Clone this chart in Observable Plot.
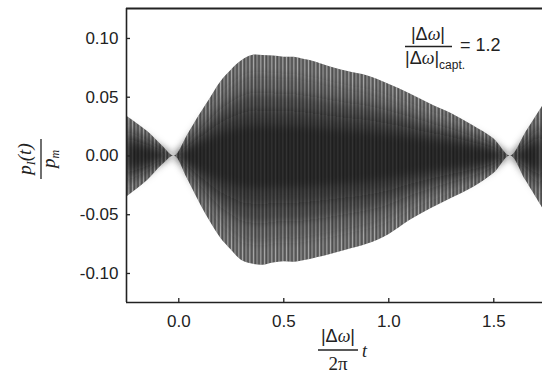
<!DOCTYPE html>
<html>
<head>
<meta charset="utf-8">
<script src="https://cdn.jsdelivr.net/npm/d3@7"></script>
<script src="https://cdn.jsdelivr.net/npm/@observablehq/plot@0.6"></script>
<style>
  html, body { margin: 0; padding: 0; background: #fff; }
  #chart svg { display: block; }
</style>
</head>
<body>
<div id="chart"></div>
<script>
// Envelope of the rapidly oscillating signal
const tValues = [-0.249, -0.15, -0.08, -0.02, 0.04, 0.1, 0.15, 0.2, 0.25, 0.3, 0.35, 0.4, 0.45, 0.5, 0.55, 0.6, 0.65, 0.7, 0.8, 0.9, 1.0, 1.1, 1.2, 1.3, 1.4, 1.5, 1.58, 1.65, 1.732];
const upperEnvelope = [0.034, 0.021, 0.009, 0.0, 0.017, 0.035, 0.049, 0.063, 0.073, 0.081, 0.0855, 0.0855, 0.085, 0.084, 0.084, 0.082, 0.080, 0.077, 0.072, 0.068, 0.061, 0.053, 0.044, 0.036, 0.026, 0.0146, 0.0, 0.019, 0.042];
const lowerEnvelope = [-0.035, -0.021, -0.008, 0.0, -0.019, -0.040, -0.056, -0.070, -0.080, -0.089, -0.092, -0.093, -0.091, -0.090, -0.0905, -0.089, -0.087, -0.085, -0.080, -0.075, -0.067, -0.055, -0.045, -0.036, -0.027, -0.015, 0.0, -0.020, -0.044];
const xTicks = [0.0, 0.5, 1.0, 1.5];
const yTicks = [-0.10, -0.05, 0.00, 0.05, 0.10];
const xDomain = [-0.249, 1.732];
const yDomain = [-0.1247, 0.1255];
const annotationValue = "1.2";

const rows = tValues.map((t, i) => ({t, hi: upperEnvelope[i], lo: lowerEnvelope[i]}));

const W = 542, H = 374;
const mL = 126, mR = 0, mT = 8, mB = 72;
const plotW = W - mL - mR, plotH = H - mT - mB;

// darker core shading layers (fraction of the envelope, colour, opacity) - style only
const coreLayers = [
  {k: 0.8, fill: "#333333", op: 0.25},
  {k: 0.62, fill: "#222222", op: 0.35},
  {k: 0.45, fill: "#111111", op: 0.35},
  {k: 0.3, fill: "#0c0c0c", op: 0.3}
];
const coreFills = coreLayers.map(c => c.fill);
const coreMarks = coreLayers.map(c => {
  const scaled = rows.map(r => ({t: r.t, hi: r.hi * c.k, lo: r.lo * c.k}));
  return Plot.areaY(scaled, {x: "t", y1: "lo", y2: "hi", fill: c.fill, fillOpacity: c.op, curve: "catmull-rom"});
});

const svg = Plot.plot({
  width: W,
  height: H,
  marginLeft: mL,
  marginRight: mR,
  marginTop: mT,
  marginBottom: mB,
  style: {fontFamily: "'Liberation Sans', Arial, Helvetica, sans-serif", fontSize: "16px", color: "#222", background: "#fff"},
  x: {domain: xDomain},
  y: {domain: yDomain},
  marks: [
    // signal envelope
    Plot.areaY(rows, {x: "t", y1: "lo", y2: "hi", fill: "#666666", curve: "catmull-rom"}),
    Plot.areaY(rows, {x: "t", y1: "lo", y2: "hi", fill: "url(#stripes)", curve: "catmull-rom"}),
    ...coreMarks,
    Plot.areaY(rows, {x: "t", y1: "lo", y2: "hi", fill: "url(#stripesDark)", curve: "catmull-rom"}),
    // spines
    Plot.ruleX([xDomain[0]], {stroke: "#222", strokeWidth: 1.6}),
    Plot.ruleY([yDomain[0]], {stroke: "#222", strokeWidth: 1.6}),
    Plot.ruleY([yDomain[1]], {stroke: "#222", strokeWidth: 1.8}),
    // inward ticks
    Plot.tickX(xTicks, {x: d => d, stroke: "#222", strokeWidth: 1.3, insetTop: plotH - 4}),
    Plot.tickY(yTicks, {y: d => d, stroke: "#222", strokeWidth: 1.3, insetRight: plotW - 4}),
    // tick labels
    Plot.axisX(xTicks, {tickSize: 0, tickPadding: 12, tickFormat: d => d.toFixed(1), label: null, fontSize: 17, letterSpacing: 1.5}),
    Plot.axisY(yTicks, {tickSize: 0, tickPadding: 8, tickFormat: d => d.toFixed(2), label: null, fontSize: 17, letterSpacing: 1.5})
  ]
});

const s = d3.select(svg);
const defs = s.insert("defs", ":first-child");
defs.html(`
  <pattern id="stripes" patternUnits="userSpaceOnUse" width="11" height="20">
    <rect x="0" y="0" width="1.1" height="20" fill="#d8d8d8" fill-opacity="0.55"/>
    <rect x="3.6" y="0" width="0.9" height="20" fill="#cfcfcf" fill-opacity="0.4"/>
    <rect x="7.3" y="0" width="1" height="20" fill="#e0e0e0" fill-opacity="0.5"/>
  </pattern>
  <pattern id="stripesDark" patternUnits="userSpaceOnUse" width="11" height="20">
    <rect x="1.8" y="0" width="1.2" height="20" fill="#000" fill-opacity="0.22"/>
    <rect x="5.4" y="0" width="1.2" height="20" fill="#000" fill-opacity="0.18"/>
    <rect x="9.2" y="0" width="1" height="20" fill="#000" fill-opacity="0.2"/>
  </pattern>
  <filter id="soft" filterUnits="userSpaceOnUse" x="${mL + 1}" y="${mT}" width="${plotW}" height="${plotH}">
    <feGaussianBlur stdDeviation="4"/>
  </filter>
`);
// soften the edges of the core shading
s.selectAll("g").filter(function () { return coreFills.includes(this.getAttribute("fill")); })
  .attr("filter", "url(#soft)");

// Axis labels and annotation (real text)
const serif = "'Liberation Serif', 'Times New Roman', Times, serif";
const sans = "'Liberation Sans', Arial, Helvetica, sans-serif";

// y label: p_I(t) / p_m, rotated
const gy = s.append("g").attr("transform", "translate(41,159) rotate(-90)").attr("fill", "#222");
const num = gy.append("text").attr("x", 0).attr("y", -10).attr("text-anchor", "middle")
  .attr("font-family", serif).attr("font-style", "italic").attr("font-size", 19);
num.append("tspan").text("p");
num.append("tspan").attr("font-size", 12).attr("dy", 4).text("I");
num.append("tspan").attr("dy", -4).text("(t)");
gy.append("line").attr("x1", -20).attr("x2", 20).attr("y1", 0).attr("y2", 0).attr("stroke", "#222").attr("stroke-width", 1.3);
const den = gy.append("text").attr("x", 0).attr("y", 14).attr("text-anchor", "middle")
  .attr("font-family", serif).attr("font-style", "italic").attr("font-size", 19);
den.append("tspan").text("p");
den.append("tspan").attr("font-size", 12).attr("dy", 4).text("m");

// x label: |Δω| / 2π  t
const gx = s.append("g").attr("fill", "#222");
const xn = gx.append("text").attr("x", 338).attr("y", 342).attr("text-anchor", "middle")
  .attr("font-family", sans).attr("font-size", 18);
xn.append("tspan").text("|Δ");
xn.append("tspan").attr("font-family", serif).attr("font-style", "italic").text("ω");
xn.append("tspan").text("|");
gx.append("line").attr("x1", 318).attr("x2", 358).attr("y1", 350).attr("y2", 350).attr("stroke", "#222").attr("stroke-width", 1.3);
gx.append("text").attr("x", 338).attr("y", 370).attr("text-anchor", "middle")
  .attr("font-family", serif).attr("font-size", 19).text("2π");
gx.append("text").attr("x", 362).attr("y", 357).attr("text-anchor", "start").attr("font-family", serif).attr("font-style", "italic").attr("font-size", 18).text("t");

// annotation: |Δω| / |Δω|capt. = 1.2
const ga = s.append("g").attr("fill", "#222");
const an = ga.append("text").attr("x", 428).attr("y", 40).attr("text-anchor", "middle")
  .attr("font-family", sans).attr("font-size", 18);
an.append("tspan").text("|Δ");
an.append("tspan").attr("font-family", serif).attr("font-style", "italic").text("ω");
an.append("tspan").text("|");
ga.append("line").attr("x1", 405).attr("x2", 452).attr("y1", 46.5).attr("y2", 46.5).attr("stroke", "#222").attr("stroke-width", 1.3);
const ad = ga.append("text").attr("x", 405).attr("y", 64).attr("text-anchor", "start").attr("font-family", sans).attr("font-size", 18);
ad.append("tspan").text("|Δ");
ad.append("tspan").attr("font-family", serif).attr("font-style", "italic").text("ω");
ad.append("tspan").text("|");
ad.append("tspan").attr("font-size", 12).attr("dy", 5).text("capt.");
ga.append("text").attr("x", 460).attr("y", 51).attr("text-anchor", "start").attr("font-family", sans).attr("font-size", 18).text("= " + annotationValue);

document.getElementById("chart").appendChild(svg);
</script>
</body>
</html>
